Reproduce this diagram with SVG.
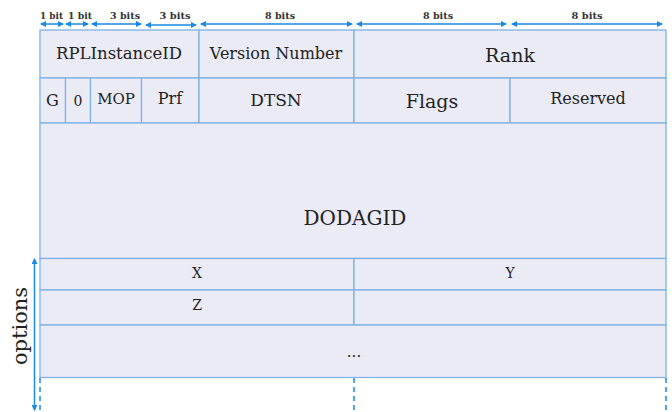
<svg xmlns="http://www.w3.org/2000/svg" width="672" height="412" viewBox="0 0 672 412">
<defs>
<marker id="ah" viewBox="0 0 6 6" refX="5" refY="3" markerWidth="4" markerHeight="4" orient="auto-start-reverse">
<path d="M0,0 L6,3 L0,6 z" fill="#1a8ae0"/>
</marker>
<style>
.cell{fill:#ebebf6;stroke:#7db3e6;stroke-width:1.3}
.t{fill:#222;text-anchor:middle}
.b{font-weight:bold;font-size:9.5px;fill:#333;text-anchor:middle}
.arr{stroke:#1a8ae0;stroke-width:1.5;fill:none;marker-start:url(#ah);marker-end:url(#ah)}
.dash{stroke:#1a8ae0;stroke-width:1.5;stroke-dasharray:5,4}
</style>
</defs>
<rect x="0" y="0" width="672" height="412" fill="#fff"/>
<g font-family="'DejaVu Serif', 'Liberation Serif', serif">
<g id="bits">
<text class="b" x="51.5" y="18.5" font-size="8.5" textLength="23" lengthAdjust="spacingAndGlyphs">1 bit</text>
<text class="b" x="80" y="18.5" font-size="8.5" textLength="24" lengthAdjust="spacingAndGlyphs">1 bit</text>
<text class="b" x="125" y="18.5" textLength="30" lengthAdjust="spacingAndGlyphs">3 bits</text>
<text class="b" x="175" y="19" textLength="31" lengthAdjust="spacingAndGlyphs">3 bits</text>
<text class="b" x="280" y="18.5" textLength="30" lengthAdjust="spacingAndGlyphs">8 bits</text>
<text class="b" x="438" y="18.5" textLength="30" lengthAdjust="spacingAndGlyphs">8 bits</text>
<text class="b" x="587" y="18.5" textLength="31" lengthAdjust="spacingAndGlyphs">8 bits</text>
</g>
<g id="connectors">
<line class="arr" x1="41" y1="24" x2="63" y2="24"/>
<line class="arr" x1="66" y1="24" x2="88" y2="24"/>
<line class="arr" x1="92" y1="24" x2="141" y2="24"/>
<line class="arr" x1="146" y1="25" x2="196" y2="25"/>
<line class="arr" x1="201" y1="24" x2="352" y2="24"/>
<line class="arr" x1="357" y1="24" x2="506" y2="24"/>
<line class="arr" x1="512" y1="24" x2="662" y2="24"/>
<line class="arr" x1="34.5" y1="259" x2="34.5" y2="410"/>
<line class="dash" x1="40" y1="378" x2="40" y2="412"/>
<line class="dash" x1="354" y1="378" x2="354" y2="412"/>
<line class="dash" x1="666" y1="378" x2="666" y2="412"/>
</g>
<g id="row1">
<g id="rplinstanceid"><rect class="cell" x="40" y="30" width="159" height="48"/><text class="t" x="119" y="59" font-size="16.5">RPLInstanceID</text></g>
<g id="version"><rect class="cell" x="199" y="30" width="155" height="48"/><text class="t" x="276" y="59" font-size="16">Version Number</text></g>
<g id="rank"><rect class="cell" x="354" y="30" width="312" height="48"/><text class="t" x="510" y="62" font-size="19">Rank</text></g>
</g>
<g id="row2">
<g id="g"><rect class="cell" x="40" y="78" width="25.5" height="45"/><text class="t" x="52.5" y="106" font-size="16">G</text></g>
<g id="zero"><rect class="cell" x="65.5" y="78" width="25" height="45"/><text class="t" x="78" y="106" font-size="14">0</text></g>
<g id="mop"><rect class="cell" x="90.5" y="78" width="51" height="45"/><text class="t" x="116" y="104" font-size="15">MOP</text></g>
<g id="prf"><rect class="cell" x="141.5" y="78" width="57.5" height="45"/><text class="t" x="170" y="104" font-size="16">Prf</text></g>
<g id="dtsn"><rect class="cell" x="199" y="78" width="155" height="45"/><text class="t" x="276" y="106" font-size="17">DTSN</text></g>
<g id="flags"><rect class="cell" x="354" y="78" width="156" height="45"/><text class="t" x="432" y="108" font-size="19">Flags</text></g>
<g id="reserved"><rect class="cell" x="510" y="78" width="156" height="45"/><text class="t" x="588" y="104" font-size="16">Reserved</text></g>
</g>
<g id="dodagid"><rect class="cell" x="40" y="123" width="626" height="135.5"/><text class="t" x="355" y="225" font-size="20">DODAGID</text></g>
<g id="x"><rect class="cell" x="40" y="258.5" width="314" height="31.5"/><text class="t" x="197" y="278" font-size="14">X</text></g>
<g id="y"><rect class="cell" x="354" y="258.5" width="312" height="31.5"/><text class="t" x="510" y="278" font-size="14">Y</text></g>
<g id="z"><rect class="cell" x="40" y="290" width="314" height="35"/><text class="t" x="197" y="310" font-size="14">Z</text></g>
<g id="empty"><rect class="cell" x="354" y="290" width="312" height="35"/></g>
<g id="more"><rect class="cell" x="40" y="325" width="626" height="52.5"/><text class="t" x="354" y="357" font-size="15">...</text></g>
<g id="options"><text class="t" transform="translate(27,326) rotate(-90)" font-size="21">options</text></g>
</g>
</svg>
